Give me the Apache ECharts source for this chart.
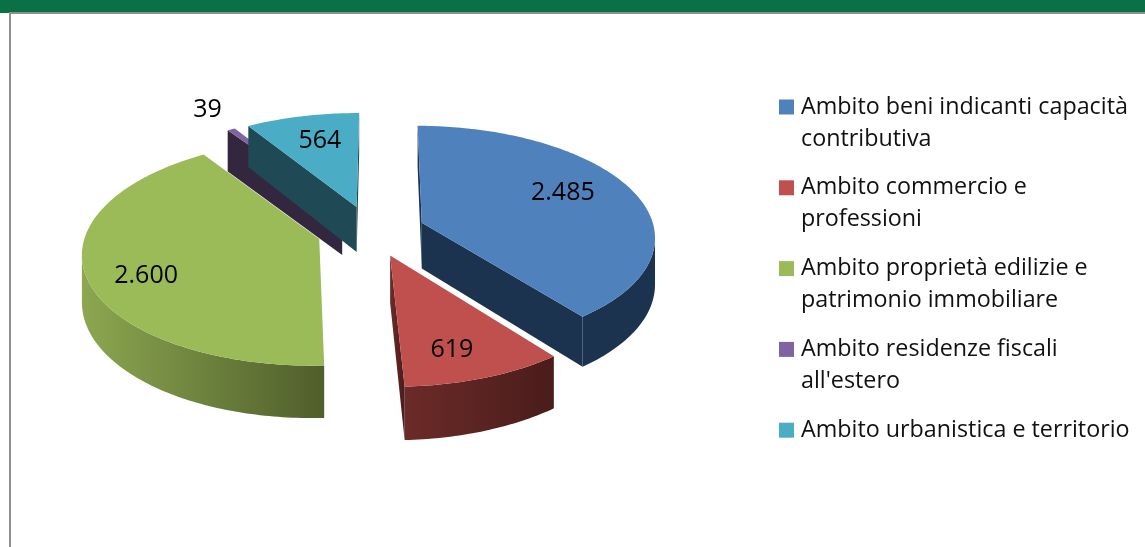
<!DOCTYPE html>
<html>
<head>
<meta charset="utf-8">
<title>Ambiti</title>
<script src="https://cdn.jsdelivr.net/npm/echarts@6/dist/echarts.min.js"></script>
<style>
html, body { margin: 0; padding: 0; background: #fff; }
#main { width: 1145px; height: 547px; }
</style>
</head>
<body>
<div id="main"></div>
<script>
var categories = [
    'Ambito beni indicanti capacità\ncontributiva',
    'Ambito commercio e\nprofessioni',
    'Ambito proprietà edilizie e\npatrimonio immobiliare',
    "Ambito residenze fiscali\nall'estero",
    'Ambito urbanistica e territorio'
];
var values = [2485, 619, 2600, 39, 564];

var topColors = ['#4f81bd', '#c0504d', '#9bbb59', '#8064a2', '#4bacc6'];
var wallLeft = ['#1c3350', '#6b2b28', '#8ca750', '#33263f', '#1f4a55'];
var wallRight = ['#1c3350', '#4a1c1b', '#4f5e2b', '#33263f', '#1f4a55'];
var labelRadius = [0.70, 0.775, 0.77, 1.26, 0.70];
var labelTurn = [-5.5, 3, -6, 0.5, 1];

// 视角参数
var FONT = '"Open Sans", sans-serif';
var cx = 371, cy = 231, rx = 233, ry = 110, persp = 0.115, depth = 46, explode = 0.232, firstAngle = 0.3;

var total = values.reduce(function (a, b) { return a + b; }, 0);

function project(u, v, z) {
    var s = 1 / (1 + persp * v);
    return [cx + rx * u * s, cy - ry * v * s + (z || 0) * s];
}

function formatNum(n) {
    return String(n).replace(/\B(?=(\d{3})+$)/g, '.');
}

function sliceAngles(index) {
    var before = 0;
    for (var i = 0; i < index; i++) before += values[i];
    var a0 = firstAngle + before / total * 360;
    return [a0, a0 + values[index] / total * 360];
}

function rad(d) { return d * Math.PI / 180; }

function renderSlice(index, params, api) {
    var value = api.value(0);
    var range = sliceAngles(index);
    var mid = (range[0] + range[1]) / 2;
    var ou = explode * Math.sin(rad(mid));
    var ov = explode * Math.cos(rad(mid));

    // 外圈弧线上的点
    var arc = [];
    var steps = Math.max(2, Math.ceil(range[1] - range[0]));
    for (var i = 0; i <= steps; i++) {
        var a = rad(range[0] + (range[1] - range[0]) * i / steps);
        arc.push([ou + Math.sin(a), ov + Math.cos(a)]);
    }
    var apex = [ou, ov];
    var children = [];

    function wall(points) {
        var top = points.map(function (p) { return project(p[0], p[1], 0); });
        var bottom = points.map(function (p) { return project(p[0], p[1], depth); }).reverse();
        children.push({
            type: 'polygon',
            shape: { points: top.concat(bottom) },
            style: {
                fill: new echarts.graphic.LinearGradient(0, 0, 1, 0, [
                    { offset: 0, color: wallLeft[index] },
                    { offset: 1, color: wallRight[index] }
                ])
            }
        });
    }
    function facing(a, b) {
        return project(b[0], b[1])[0] < project(a[0], a[1])[0];
    }

    // 只画朝前的侧面
    if (facing(apex, arc[0])) wall([apex, arc[0]]);
    var run = [];
    for (var j = 0; j < arc.length - 1; j++) {
        if (facing(arc[j], arc[j + 1])) {
            if (!run.length) run.push(arc[j]);
            run.push(arc[j + 1]);
        }
    }
    if (run.length) wall(run);
    if (facing(arc[arc.length - 1], apex)) wall([arc[arc.length - 1], apex]);

    children.push({
        type: 'polygon',
        shape: { points: [apex].concat(arc).map(function (p) { return project(p[0], p[1], 0); }) },
        style: { fill: topColors[index] }
    });

    var la = rad(mid + labelTurn[index]);
    var lp = project(ou + labelRadius[index] * Math.sin(la), ov + labelRadius[index] * Math.cos(la), 0);
    children.push({
        type: 'text',
        style: {
            text: formatNum(value),
            x: lp[0],
            y: lp[1],
            fill: '#000',
            font: '25px ' + FONT,
            align: 'center',
            verticalAlign: 'middle'
        }
    });
    return { type: 'group', children: children };
}

var myChart = echarts.init(document.getElementById('main'), null, { renderer: 'canvas' });

var option = {
    animation: false,
    backgroundColor: '#fff',
    legend: {
        orient: 'vertical',
        left: 779,
        top: 59,
        padding: 0,
        itemWidth: 15,
        itemHeight: 15,
        itemGap: -15.2,
        icon: 'rect',
        selectedMode: false,
        data: categories,
        formatter: function (name) {
            return '\n' + name + (name.indexOf('\n') < 0 ? '\n ' : '');
        },
        textStyle: {
            color: '#111',
            fontFamily: FONT,
            fontSize: 23.3,
            lineHeight: 32,
            padding: [0, 0, 0, 2]
        }
    },
    graphic: [
        { type: 'rect', shape: { x: 0, y: 0, width: 1145, height: 12 }, style: { fill: '#0a7146' } },
        { type: 'rect', shape: { x: 0, y: 12, width: 9, height: 1 }, style: { fill: '#0a7146' } },
        { type: 'rect', shape: { x: 9, y: 12, width: 1136, height: 2 }, style: { fill: '#8f8f8f' } },
        { type: 'rect', shape: { x: 9, y: 12, width: 2, height: 535 }, style: { fill: '#8f8f8f' } }
    ],
    series: categories.map(function (name, i) {
        return {
            type: 'custom',
            name: name,
            coordinateSystem: 'none',
            silent: true,
            itemStyle: { color: topColors[i] },
            data: [[values[i]]],
            renderItem: function (params, api) { return renderSlice(i, params, api); }
        };
    })
};
myChart.setOption(option);
</script>
</body>
</html>
